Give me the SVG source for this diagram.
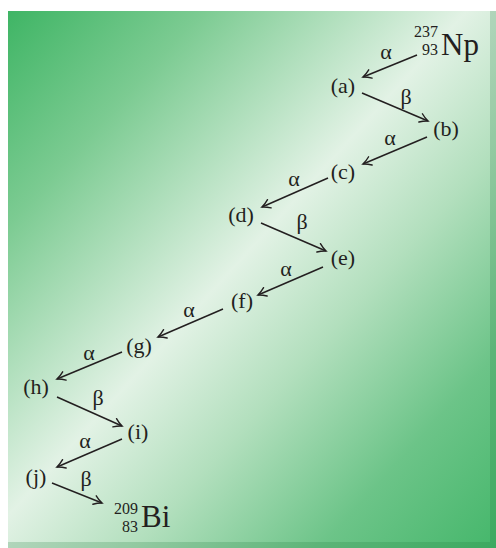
<svg xmlns="http://www.w3.org/2000/svg" width="496" height="548" viewBox="0 0 496 548">
  <defs>
    <linearGradient id="bg" x1="0" y1="0" x2="1" y2="1">
      <stop offset="0" stop-color="#3fb565"/>
      <stop offset="0.2" stop-color="#7ccb92"/>
      <stop offset="0.47" stop-color="#e2f2e5"/>
      <stop offset="0.63" stop-color="#b2dfbd"/>
      <stop offset="0.82" stop-color="#6cc488"/>
      <stop offset="1" stop-color="#45b76b"/>
    </linearGradient>
    <marker id="arr" markerUnits="userSpaceOnUse" markerWidth="14" markerHeight="14" refX="11" refY="7" orient="auto" overflow="visible">
      <path d="M3,2.5 Q7,5.5 11,7 Q7,8.5 3,11.5" fill="none" stroke="#231f20" stroke-width="1.4" stroke-linecap="round"/>
    </marker>
    <style>
      .lbl { font-family: "Liberation Serif", "DejaVu Serif", serif; font-size: 22px; fill: #231f20; text-anchor: middle; }
      .gr { font-family: "Liberation Serif", "DejaVu Serif", serif; font-size: 22px; fill: #231f20; text-anchor: middle; }
      .el { font-family: "Liberation Serif", "DejaVu Serif", serif; font-size: 31px; fill: #231f20; }
      .sc { font-family: "Liberation Serif", "DejaVu Serif", serif; font-size: 16px; fill: #231f20; text-anchor: end; }
      .ln { stroke: #231f20; stroke-width: 1.5; fill: none; marker-end: url(#arr); }
    </style>
  </defs>

  <rect x="0" y="0" width="496" height="548" fill="#ffffff"/>
  <rect x="8" y="11" width="488" height="537" fill="url(#bg)"/>
  <rect x="490" y="11" width="6" height="537" fill="#1e7a3a" opacity="0.22"/>
  <rect x="8" y="542" width="482" height="6" fill="#1e7a3a" opacity="0.22"/>

  <g id="connectors">
    <line class="ln" x1="417" y1="55" x2="363" y2="77"/>
    <line class="ln" x1="362" y1="93" x2="428" y2="121"/>
    <line class="ln" x1="427" y1="137" x2="363" y2="164"/>
    <line class="ln" x1="328" y1="178" x2="262" y2="207"/>
    <line class="ln" x1="261" y1="223" x2="326" y2="251"/>
    <line class="ln" x1="323" y1="267" x2="258" y2="295"/>
    <line class="ln" x1="223" y1="309" x2="158" y2="337"/>
    <line class="ln" x1="122" y1="352" x2="57" y2="379"/>
    <line class="ln" x1="57" y1="397" x2="122" y2="426"/>
    <line class="ln" x1="122" y1="439" x2="57" y2="467"/>
    <line class="ln" x1="52" y1="483" x2="102" y2="503"/>
    <text class="gr" x="386" y="59">α</text>
    <text class="gr" x="406" y="104">β</text>
    <text class="gr" x="390" y="145">α</text>
    <text class="gr" x="294" y="186">α</text>
    <text class="gr" x="302" y="229">β</text>
    <text class="gr" x="286" y="276">α</text>
    <text class="gr" x="189" y="317">α</text>
    <text class="gr" x="89" y="360">α</text>
    <text class="gr" x="98" y="405">β</text>
    <text class="gr" x="85" y="448">α</text>
    <text class="gr" x="86" y="486">β</text>
  </g>

  <g id="np237">
    <text class="sc" x="438" y="37">237</text>
    <text class="sc" x="438" y="55">93</text>
    <text class="el" x="441" y="55">Np</text>
  </g>
  <g id="a"><text class="lbl" x="343" y="93">(a)</text></g>
  <g id="b"><text class="lbl" x="446" y="136">(b)</text></g>
  <g id="c"><text class="lbl" x="343" y="179">(c)</text></g>
  <g id="d"><text class="lbl" x="241" y="222">(d)</text></g>
  <g id="e"><text class="lbl" x="343" y="265">(e)</text></g>
  <g id="f"><text class="lbl" x="242" y="308">(f)</text></g>
  <g id="g"><text class="lbl" x="139" y="353">(g)</text></g>
  <g id="h"><text class="lbl" x="36" y="394">(h)</text></g>
  <g id="i"><text class="lbl" x="138" y="439">(i)</text></g>
  <g id="j"><text class="lbl" x="36" y="484">(j)</text></g>
  <g id="bi209">
    <text class="sc" x="138" y="514">209</text>
    <text class="sc" x="138" y="532">83</text>
    <text class="el" x="141" y="527">Bi</text>
  </g>
</svg>
